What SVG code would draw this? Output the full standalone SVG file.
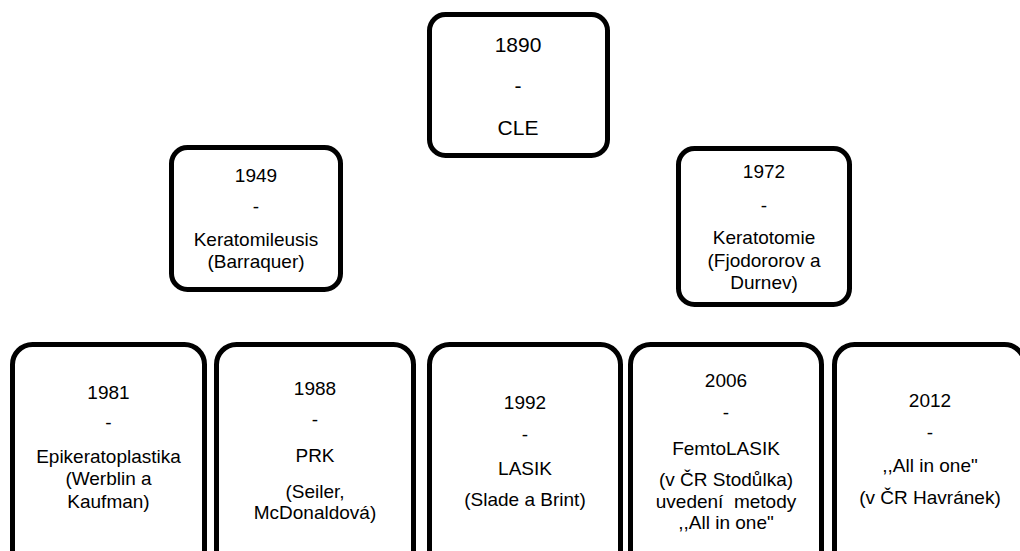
<svg xmlns="http://www.w3.org/2000/svg" width="1020" height="551" viewBox="0 0 1020 551">
<style>
.box{fill:#fff;stroke:#000;stroke-width:5}
text{font-family:"Liberation Sans",Arial,sans-serif;font-size:19px;fill:#000;text-anchor:middle}
.big{font-size:21px}
.pre{white-space:pre}
</style>
<rect width="1020" height="551" fill="#fff"/>
<g id="connectors"></g>
<g id="n1890">
<rect class="box" x="429.5" y="14.5" width="178" height="141" rx="16"/>
<text class="big" x="518" y="52">1890</text>
<text class="big" x="518" y="93">-</text>
<text class="big" x="518" y="135">CLE</text>
</g>
<g id="n1949">
<rect class="box" x="171.5" y="147.5" width="169" height="142" rx="16"/>
<text x="256" y="182">1949</text>
<text x="256" y="213">-</text>
<text x="256" y="246">Keratomileusis</text>
<text x="256" y="268">(Barraquer)</text>
</g>
<g id="n1972">
<rect class="box" x="678.5" y="148.5" width="171" height="156" rx="16"/>
<text x="764" y="178">1972</text>
<text x="764" y="212">-</text>
<text x="764" y="244">Keratotomie</text>
<text x="764" y="267">(Fjodororov a</text>
<text x="764" y="289">Durnev)</text>
</g>
<g id="n1981">
<rect class="box" x="12.5" y="344.5" width="192" height="230" rx="20"/>
<text x="108.5" y="399">1981</text>
<text x="108.5" y="429">-</text>
<text x="108.5" y="463">Epikeratoplastika</text>
<text x="108.5" y="485">(Werblin a</text>
<text x="108.5" y="508">Kaufman)</text>
</g>
<g id="n1988">
<rect class="box" x="216.5" y="344.5" width="197" height="230" rx="20"/>
<text x="315" y="395">1988</text>
<text x="315" y="426">-</text>
<text x="315" y="462">PRK</text>
<text x="315" y="498">(Seiler,</text>
<text x="315" y="519">McDonaldová)</text>
</g>
<g id="n1992">
<rect class="box" x="429.5" y="344.5" width="191" height="230" rx="20"/>
<text x="525" y="409">1992</text>
<text x="525" y="441">-</text>
<text x="525" y="475">LASIK</text>
<text x="525" y="506">(Slade a Brint)</text>
</g>
<g id="n2006">
<rect class="box" x="630.5" y="344.5" width="191" height="230" rx="20"/>
<text x="726" y="387">2006</text>
<text x="726" y="419">-</text>
<text x="726" y="455">FemtoLASIK</text>
<text x="726" y="486">(v ČR Stodůlka)</text>
<text class="pre" x="726" y="508">uvedení  metody</text>
<text x="726" y="529">,,All in one"</text>
</g>
<g id="n2012">
<rect class="box" x="834.5" y="344.5" width="190" height="230" rx="20"/>
<text x="930" y="407">2012</text>
<text x="930" y="439">-</text>
<text x="930" y="472">,,All in one"</text>
<text x="930" y="504">(v ČR Havránek)</text>
</g>
</svg>
